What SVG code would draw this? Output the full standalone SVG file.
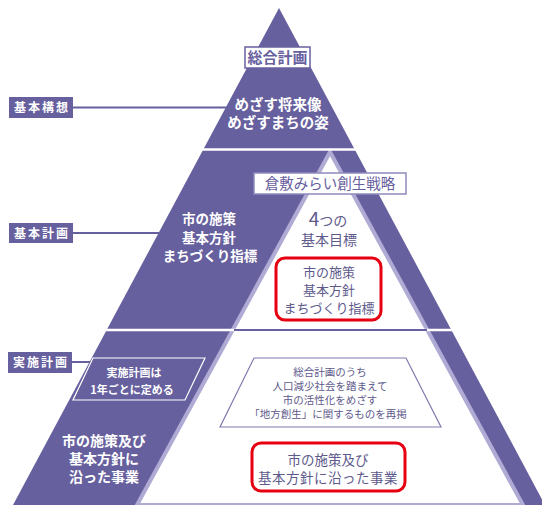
<svg xmlns="http://www.w3.org/2000/svg" width="542" height="505" viewBox="0 0 542 505">
<defs>
<style>
.pur{fill:#67609e}
.lbl{fill:#67609e}
.lt{font-family:"Noto Sans CJK JP","Noto Sans",sans-serif;font-size:12px;font-weight:bold;fill:#ffffff;letter-spacing:2px;text-anchor:middle}
.wt{font-family:"Noto Sans CJK JP","Noto Sans",sans-serif;font-weight:bold;fill:#ffffff;text-anchor:middle}
.pt{font-family:"Noto Sans CJK JP","Noto Sans",sans-serif;fill:#5e5a8c;text-anchor:middle}
.conn{stroke:#67609e;stroke-width:2;fill:none}
.red{fill:#ffffff;stroke:#e60012;stroke-width:3}
</style>
</defs>
<rect width="542" height="505" fill="#ffffff"/>
<g id="pyramid">
<polygon class="pur" points="279,8 545,505 13,505"/>
<polygon points="330,152 523,505 137,505" fill="#ffffff" stroke="#afabd4" stroke-width="4" stroke-linejoin="miter"/>
<line x1="150" y1="149.5" x2="410" y2="149.5" stroke="#ffffff" stroke-width="2.5"/>
<line x1="80" y1="330" x2="470" y2="330" stroke="#ffffff" stroke-width="2.5"/>
<line x1="234" y1="330" x2="427" y2="330" stroke="#67609e" stroke-width="2"/>
</g>
<g id="connectors">
<line class="conn" x1="72" y1="107.5" x2="228" y2="107.5"/>
<line class="conn" x1="72" y1="233" x2="160" y2="233"/>
<line class="conn" x1="72" y1="362" x2="92" y2="362"/>
</g>
<g id="label-kihonkoso">
<rect class="lbl" x="9" y="97" width="64" height="21"/>
<text class="lt" x="42" y="112">基本構想</text>
</g>
<g id="label-kihonkeikaku">
<rect class="lbl" x="9" y="223" width="64" height="20"/>
<text class="lt" x="42" y="238">基本計画</text>
</g>
<g id="label-jisshikeikaku">
<rect class="lbl" x="8" y="352" width="64" height="21"/>
<text class="lt" x="41" y="367">実施計画</text>
</g>
<g id="title-sogo">
<rect x="245" y="47" width="65" height="21" fill="#ffffff" stroke="#67609e" stroke-width="1.5"/>
<text class="pt" x="277.5" y="63" font-size="15" font-weight="bold" style="fill:#67609e">総合計画</text>
</g>
<g id="top-text">
<text class="wt" x="278" y="110" font-size="14.5">めざす将来像</text>
<text class="wt" x="278" y="128" font-size="14.5">めざすまちの姿</text>
</g>
<g id="title-soseisenryaku">
<rect x="254" y="173" width="152" height="21" fill="#ffffff" stroke="#8f8abf" stroke-width="1.5"/>
<text class="pt" x="330" y="189" font-size="14.5" style="fill:#67609e">倉敷みらい創生戦略</text>
</g>
<g id="mid-left-text">
<text class="wt" x="209" y="224" font-size="13.5">市の施策</text>
<text class="wt" x="209" y="243" font-size="13.5">基本方針</text>
<text class="wt" x="210" y="261" font-size="13.5">まちづくり指標</text>
</g>
<g id="mid-goals">
<text class="pt" x="328" y="226" font-size="14"><tspan font-size="19">4</tspan>つの</text>
<text class="pt" x="329" y="245" font-size="14">基本目標</text>
</g>
<g id="mid-redbox">
<rect class="red" x="276" y="258" width="105" height="62" rx="9"/>
<text class="pt" x="329" y="277" font-size="13">市の施策</text>
<text class="pt" x="329" y="295" font-size="13">基本方針</text>
<text class="pt" x="329" y="313" font-size="13">まちづくり指標</text>
</g>
<g id="annual-box">
<polygon points="93,358 205,358 185,400 73,400" fill="none" stroke="#ffffff" stroke-width="1.2"/>
<text class="wt" x="134" y="377" font-size="11">実施計画は</text>
<text class="wt" x="132" y="394" font-size="11">1年ごとに定める</text>
</g>
<g id="bottom-left-text">
<text class="wt" x="104" y="446" font-size="14">市の施策及び</text>
<text class="wt" x="104" y="464" font-size="14">基本方針に</text>
<text class="wt" x="104" y="482" font-size="14">沿った事業</text>
</g>
<g id="trapezoid">
<polygon points="254,358 406,358 441,427 220,427" fill="none" stroke="#7f7aaf" stroke-width="1.2"/>
<text class="pt" x="330" y="376" font-size="10.5">総合計画のうち</text>
<text class="pt" x="330" y="390" font-size="10.5">人口減少社会を踏まえて</text>
<text class="pt" x="330" y="404" font-size="10.5">市の活性化をめざす</text>
<text class="pt" x="328" y="418" font-size="10.5">「地方創生」に関するものを再掲</text>
</g>
<g id="bottom-redbox">
<rect class="red" x="252" y="443" width="153" height="48" rx="9"/>
<text class="pt" x="328" y="465" font-size="13.5">市の施策及び</text>
<text class="pt" x="328" y="483" font-size="13.5" letter-spacing="0.5">基本方針に沿った事業</text>
</g>
</svg>
